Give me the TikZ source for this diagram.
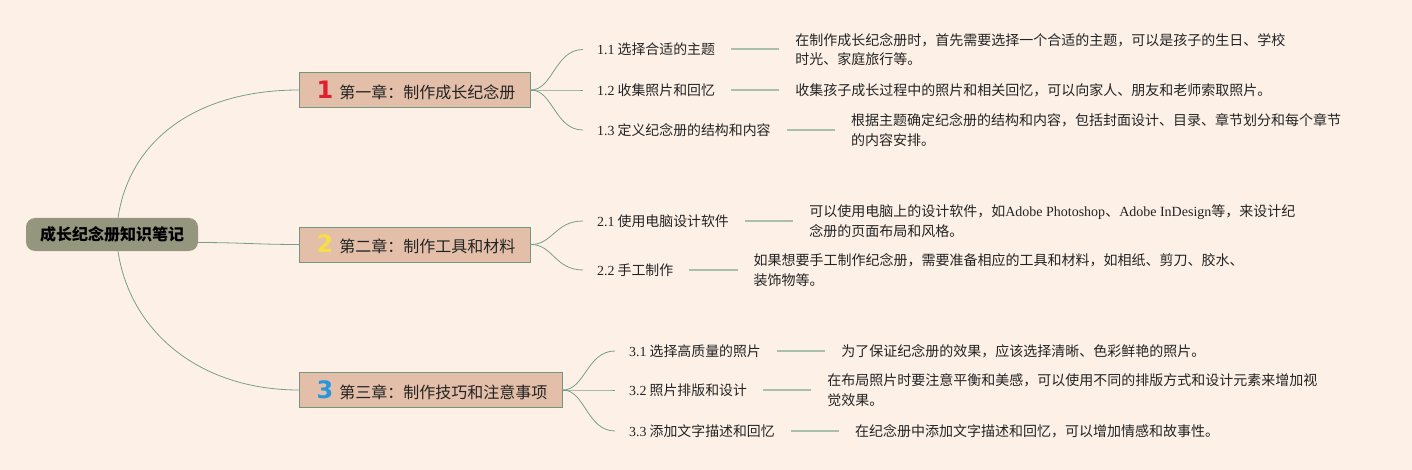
\documentclass[tikz,border=0pt]{standalone}
\usepackage{fontspec}
\setmainfont{Noto Sans CJK SC}
\newfontfamily\enfont{Liberation Serif}
\newfontfamily\numfont{DejaVu Sans}
\usepackage{xcolor}
\usepackage{tikz}
\usetikzlibrary{positioning,calc}
\definecolor{papier}{RGB}{253,241,231}
\definecolor{racine}{RGB}{148,150,126}
\definecolor{chapitre}{RGB}{227,191,169}
\definecolor{bordure}{RGB}{115,150,128}
\definecolor{lien}{RGB}{120,158,136}
\definecolor{tiret}{RGB}{168,192,170}
\definecolor{encre}{RGB}{35,35,35}
\definecolor{rouge}{RGB}{222,32,48}
\definecolor{jaune}{RGB}{246,222,70}
\definecolor{bleu}{RGB}{38,150,222}
\newcommand{\en}[1]{{\enfont #1}}
\newcommand{\chnum}[2]{\makebox[13pt]{\textcolor{#1}{\numfont\bfseries\fontsize{24}{24}\selectfont #2}}}

\begin{document}
\begin{tikzpicture}[x=1pt,y=-1pt,
    racinebox/.style={fill=racine,rounded corners=9pt,minimum width=172pt,minimum height=33pt,
      font=\fontsize{16}{16}\selectfont\bfseries,text=black},
    chapbox/.style={anchor=west,fill=chapitre,draw=bordure,line width=0.9pt,minimum height=35pt,
      inner xsep=0pt,font=\fontsize{16}{16}\selectfont,text=encre},
    soustitre/.style={anchor=west,inner sep=0pt,font=\fontsize{13.9}{16}\selectfont,text=encre},
    detail/.style={right=80pt of #1,inner sep=0pt,align=left,font=\fontsize{14}{19.5}\selectfont,text=encre},
    branche/.style={lien,line width=0.8pt},
    tiretligne/.style={tiret,line width=2pt,shorten <=16pt,shorten >=16pt}]
      \fill[papier](0,0) rectangle (1412,470);
      \useasboundingbox (0,0) rectangle (1412,470);

      \node[racinebox](root) at (112,234.5){成长纪念册知识笔记};

      \node[chapbox](ch1) at (299,90){\hspace*{19pt}\chnum{rouge}{1}\hspace{8pt}第一章：制作成长纪念册\hspace*{15pt}};
      \node[chapbox](ch2) at (299,244.5){\hspace*{19pt}\chnum{jaune}{2}\hspace{8pt}第二章：制作工具和材料\hspace*{15pt}};
      \node[chapbox](ch3) at (299,390){\hspace*{19pt}\chnum{bleu}{3}\hspace{8pt}第三章：制作技巧和注意事项\hspace*{15pt}};

      \draw[branche]([xshift=6pt]root.north) .. controls +(12,-80) and +(-100,0) .. (ch1.west);
      \draw[branche]([yshift=-8pt]root.east) .. controls +(40,0) and +(-40,0) .. (ch2.west);
      \draw[branche]([xshift=6pt]root.south) .. controls +(12,80) and +(-100,0) .. (ch3.west);

      \node[soustitre](s11) at (597,49.5){\en{1.1} 选择合适的主题};
      \node[soustitre](s12) at (597,90){\en{1.2} 收集照片和回忆};
      \node[soustitre](s13) at (597,130){\en{1.3} 定义纪念册的结构和内容};
      \node[soustitre](s21) at (597,221){\en{2.1} 使用电脑设计软件};
      \node[soustitre](s22) at (597,270){\en{2.2} 手工制作};
      \node[soustitre](s31) at (629,351){\en{3.1} 选择高质量的照片};
      \node[soustitre](s32) at (629,390){\en{3.2} 照片排版和设计};
      \node[soustitre](s33) at (629,431){\en{3.3} 添加文字描述和回忆};

      \foreach \c/\s in {ch1/s11,ch1/s12,ch1/s13,ch2/s21,ch2/s22,ch3/s31,ch3/s32,ch3/s33}
        \draw[branche](\c.east) .. controls +(22,0) and +(-28,0) .. ([xshift=-14pt]\s.west);

      \node[detail=s11](d11){在制作成长纪念册时，首先需要选择一个合适的主题，可以是孩子的生日、学校\\时光、家庭旅行等。};
      \node[detail=s12](d12){收集孩子成长过程中的照片和相关回忆，可以向家人、朋友和老师索取照片。};
      \node[detail=s13](d13){根据主题确定纪念册的结构和内容，包括封面设计、目录、章节划分和每个章节\\的内容安排。};
      \node[detail=s21](d21){可以使用电脑上的设计软件，如\en{Adobe Photoshop}、\en{Adobe InDesign}等，来设计纪\\念册的页面布局和风格。};
      \node[detail=s22](d22){如果想要手工制作纪念册，需要准备相应的工具和材料，如相纸、剪刀、胶水、\\装饰物等。};
      \node[detail=s31](d31){为了保证纪念册的效果，应该选择清晰、色彩鲜艳的照片。};
      \node[detail=s32](d32){在布局照片时要注意平衡和美感，可以使用不同的排版方式和设计元素来增加视\\觉效果。};
      \node[detail=s33](d33){在纪念册中添加文字描述和回忆，可以增加情感和故事性。};

      \foreach \s/\d in {s11/d11,s12/d12,s13/d13,s21/d21,s22/d22,s31/d31,s32/d32,s33/d33}
        \draw[tiretligne](\s.east) -- (\d.west);
    \end{tikzpicture}
\end{document}
